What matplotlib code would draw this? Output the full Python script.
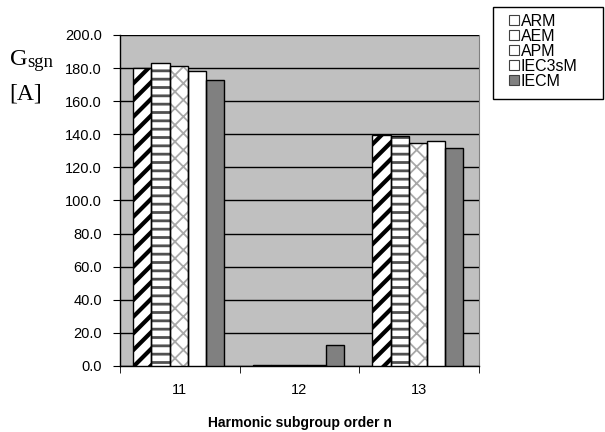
import numpy as np
import matplotlib
matplotlib.use("Agg")
import matplotlib.pyplot as plt

orders = ["11", "12", "13"]
series = ["ARM", "AEM", "APM", "IEC3sM", "IECM"]
arm = [180.0, 0.5, 139.5]
aem = [183.0, 0.5, 139.0]
apm = [181.0, 0.5, 134.5]
iec3sm = [178.0, 0.5, 136.0]
iecm = [173.0, 12.5, 132.0]
yticks = np.arange(0, 201, 20)

plt.rcParams['font.family'] = ['Liberation Sans', 'DejaVu Sans']

fig = plt.figure(figsize=(6.05, 4.32), dpi=100)
ax = fig.add_axes([0.1983, 0.1528, 0.5934, 0.7662])
ax.set_facecolor('#c0c0c0')

x = np.arange(len(orders))
w = 0.152
# face, hatch, hatch colour, hatch linewidth
styles = [
    ('white', '//', 'black', 3.0),
    ('white', '--', '#505050', 2.0),
    ('white', 'xx', '#a8a8a8', 1.3),
    ('white', None, 'black', 1.0),
    ('#808080', None, 'black', 1.0),
]
vals = [arm, aem, apm, iec3sm, iecm]
handles = []
for i, (v, (fc, hatch, hc, hlw)) in enumerate(zip(vals, styles)):
    pos = x - 0.01 + (i - 2) * w
    plt.rcParams['hatch.linewidth'] = hlw
    bars = ax.bar(pos, v, w, color=fc, edgecolor=hc if hatch else fc,
                  hatch=hatch, linewidth=0, zorder=3)
    for p in bars:
        try:
            p.set_hatch_linewidth(hlw)
        except AttributeError:
            pass
    ax.bar(pos, v, w, facecolor='none', edgecolor='black', linewidth=1.0, zorder=4)
    handles.append(plt.Rectangle((0, 0), 1, 1, facecolor=fc,
                                 edgecolor='#404040', linewidth=0.8))

ax.set_ylim(0, 200)
ax.set_xlim(-0.5, 2.5)
ax.set_yticks(yticks)
ax.set_yticklabels([f"{t:.1f}" for t in yticks], fontsize=10.5)
ax.yaxis.grid(True, color='black', linewidth=1.0, zorder=1)
ax.set_axisbelow(True)
ax.set_xticks(x)
ax.set_xticklabels(orders, fontsize=10.5)
ax.set_xticks([-0.5, 0.5, 1.5, 2.5], minor=True)
ax.tick_params(axis='x', which='major', length=0, pad=12)
ax.tick_params(axis='x', which='minor', length=5, direction='out')
ax.tick_params(axis='y', length=5, direction='out', pad=8)
ax.spines['top'].set_visible(False)
ax.spines['right'].set_color('#808080')
for s in ['left', 'bottom']:
    ax.spines[s].set_linewidth(1.0)

ax.set_xlabel("Harmonic subgroup order n", fontsize=10, fontweight='bold', labelpad=14)
fig.text(0.016, 0.850, "G", fontsize=17.5, family='Liberation Serif', va='baseline')
fig.text(0.045, 0.845, "sgn", fontsize=13.5, family='Liberation Serif', va='baseline')
fig.text(0.016, 0.770, "[A]", fontsize=17, family='Liberation Serif', va='baseline')

# legend box drawn separately to match the wide frame
fig.patches.append(plt.Rectangle((0.815, 0.771), 0.182, 0.213, transform=fig.transFigure,
                                 facecolor='white', edgecolor='black', linewidth=1.0))
fig.legend(handles, series, loc='upper left', bbox_to_anchor=(0.842, 0.968),
           fontsize=11.5, handlelength=0.6, handleheight=0.6, handletextpad=0.1,
           labelspacing=0.0, borderpad=0.0, borderaxespad=0.0, frameon=False)

fig.savefig("out.png", dpi=100)
